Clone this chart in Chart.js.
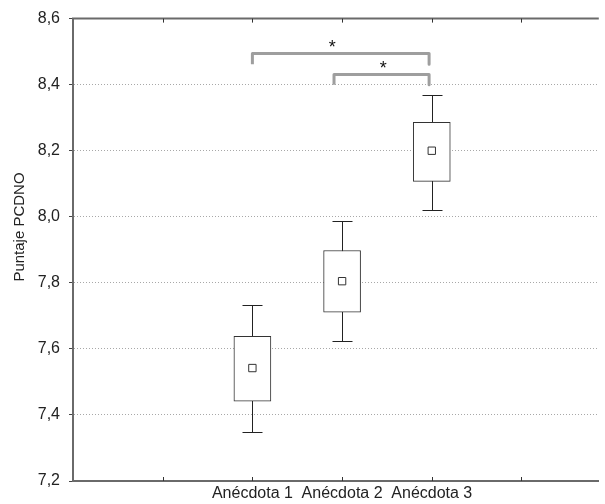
<!DOCTYPE html>
<html>
<head>
<meta charset="utf-8">
<script src="https://cdn.jsdelivr.net/npm/chart.js@4"></script>
<style>
  body { margin: 0; background: #fff; }
  canvas { display: block; }
</style>
</head>
<body>
<canvas id="boxChart" width="605" height="504"></canvas>
<script>
// groups and their summary values (mean, box = mean +/- SE, whiskers = 95% CI)
const categories = ['Anécdota 1', 'Anécdota 2', 'Anécdota 3'];
const means = [7.542, 7.805, 8.200];
const boxLow = [7.442, 7.711, 8.107];
const boxHigh = [7.638, 7.898, 8.286];
const whiskerLow = [7.348, 7.623, 8.022];
const whiskerHigh = [7.732, 7.986, 8.370];
const yTicks = [7.2, 7.4, 7.6, 7.8, 8.0, 8.2, 8.4, 8.6];

// significance brackets: from x, to x, top y, leg bottom y, star x, star y
const bracketFrom = [2.0, 2.91];
const bracketTo = [3.97, 3.97];
const bracketTop = [8.494, 8.431];
const bracketLeg = [8.462, 8.400];
const starX = [2.89, 3.46];
const starY = [8.522, 8.458];

const xPos = categories.map((_, i) => i + 2);
const font = '"Liberation Sans", Arial, sans-serif';

const bracketSets = bracketFrom.map((x0, i) => ({
  type: 'line',
  data: [
    { x: x0, y: bracketLeg[i] },
    { x: x0, y: bracketTop[i] },
    { x: bracketTo[i], y: bracketTop[i] },
    { x: bracketTo[i], y: bracketLeg[i] }
  ],
  borderColor: '#9e9e9e',
  borderWidth: 3,
  pointRadius: 0,
  fill: false,
  tension: 0,
  borderJoinStyle: 'round'
}));

const extras = {
  id: 'extras',
  beforeDatasetsDraw(chart) {
    const { ctx, chartArea: a, scales: { x, y } } = chart;
    ctx.save();
    // top frame line
    ctx.strokeStyle = '#6a6a6a';
    ctx.lineWidth = 2;
    ctx.beginPath();
    ctx.moveTo(a.left - 1, a.top);
    ctx.lineTo(a.right, a.top);
    ctx.stroke();
    // small inner ticks on top and bottom axis
    ctx.lineWidth = 1;
    ctx.strokeStyle = '#333';
    for (let v = 1; v <= 5; v++) {
      const px = Math.round(x.getPixelForValue(v)) + 0.5;
      ctx.beginPath();
      ctx.moveTo(px, a.top);
      ctx.lineTo(px, a.top + 4);
      ctx.moveTo(px, a.bottom);
      ctx.lineTo(px, a.bottom - 4);
      ctx.stroke();
    }
    // whiskers
    ctx.strokeStyle = '#222';
    xPos.forEach((xv, i) => {
      const px = Math.round(x.getPixelForValue(xv)) + 0.5;
      const top = Math.round(y.getPixelForValue(whiskerHigh[i])) + 0.5;
      const bot = Math.round(y.getPixelForValue(whiskerLow[i])) + 0.5;
      ctx.beginPath();
      ctx.moveTo(px, top);
      ctx.lineTo(px, bot);
      ctx.moveTo(px - 10, top);
      ctx.lineTo(px + 10, top);
      ctx.moveTo(px - 10, bot);
      ctx.lineTo(px + 10, bot);
      ctx.stroke();
    });
    // y axis title, sits a bit above the middle like the original
    ctx.fillStyle = '#222';
    ctx.font = '15px ' + font;
    ctx.textAlign = 'center';
    ctx.textBaseline = 'middle';
    ctx.translate(20, 227);
    ctx.rotate(-Math.PI / 2);
    ctx.fillText('Puntaje PCDNO', 0, 0);
    ctx.restore();
  },
  afterDatasetsDraw(chart) {
    const { ctx, scales: { x, y } } = chart;
    ctx.save();
    ctx.fillStyle = '#111';
    ctx.font = '18px ' + font;
    ctx.textAlign = 'center';
    ctx.textBaseline = 'middle';
    starX.forEach((sx, i) => {
      ctx.fillText('*', x.getPixelForValue(sx), y.getPixelForValue(starY[i]) + 4);
    });
    ctx.restore();
  }
};

new Chart(document.getElementById('boxChart'), {
  type: 'bar',
  data: {
    datasets: [
      {
        type: 'bar',
        data: xPos.map((xv, i) => ({ x: xv, y: [boxLow[i], boxHigh[i]] })),
        backgroundColor: '#ffffff',
        borderColor: '#333333',
        borderWidth: 1,
        borderSkipped: false,
        barThickness: 37,
        order: 2
      },
      {
        type: 'scatter',
        data: xPos.map((xv, i) => ({ x: xv, y: means[i] })),
        pointStyle: 'rect',
        pointRadius: 5.2,
        backgroundColor: '#ffffff',
        borderColor: '#333333',
        borderWidth: 1,
        order: 1
      },
      ...bracketSets
    ]
  },
  options: {
    responsive: false,
    animation: false,
    layout: { padding: { top: 18, right: 0, left: 0, bottom: 0 } },
    plugins: {
      legend: { display: false },
      tooltip: { enabled: false }
    },
    scales: {
      x: {
        type: 'linear',
        offset: false,
        min: 0,
        max: 5.862,
        afterBuildTicks: (scale) => {
          scale.ticks = xPos.map(v => ({ value: v }));
        },
        ticks: {
          autoSkip: false,
          maxRotation: 0,
          padding: 3,
          color: '#222',
          font: { family: font, size: 16 },
          callback: (v) => categories[v - 2] || ''
        },
        grid: { display: false, drawTicks: false },
        border: { display: true, color: '#6a6a6a', width: 2 },
        afterFit: (scale) => { scale.height = 23; }
      },
      y: {
        min: 7.2,
        max: 8.6,
        afterBuildTicks: (scale) => {
          scale.ticks = yTicks.map(v => ({ value: v }));
        },
        ticks: {
          padding: 9,
          color: '#222',
          font: { family: font, size: 16 },
          callback: (v) => v.toFixed(1).replace('.', ',')
        },
        grid: {
          color: '#a8a8a8',
          lineWidth: 1,
          tickLength: 4,
          tickColor: '#444',
          tickBorderDash: []
        },
        border: { display: true, color: '#6a6a6a', width: 2, dash: [1, 2] },
        title: { display: false },
        afterFit: (scale) => { scale.width = 73; }
      }
    }
  },
  plugins: [extras]
});
</script>
</body>
</html>
